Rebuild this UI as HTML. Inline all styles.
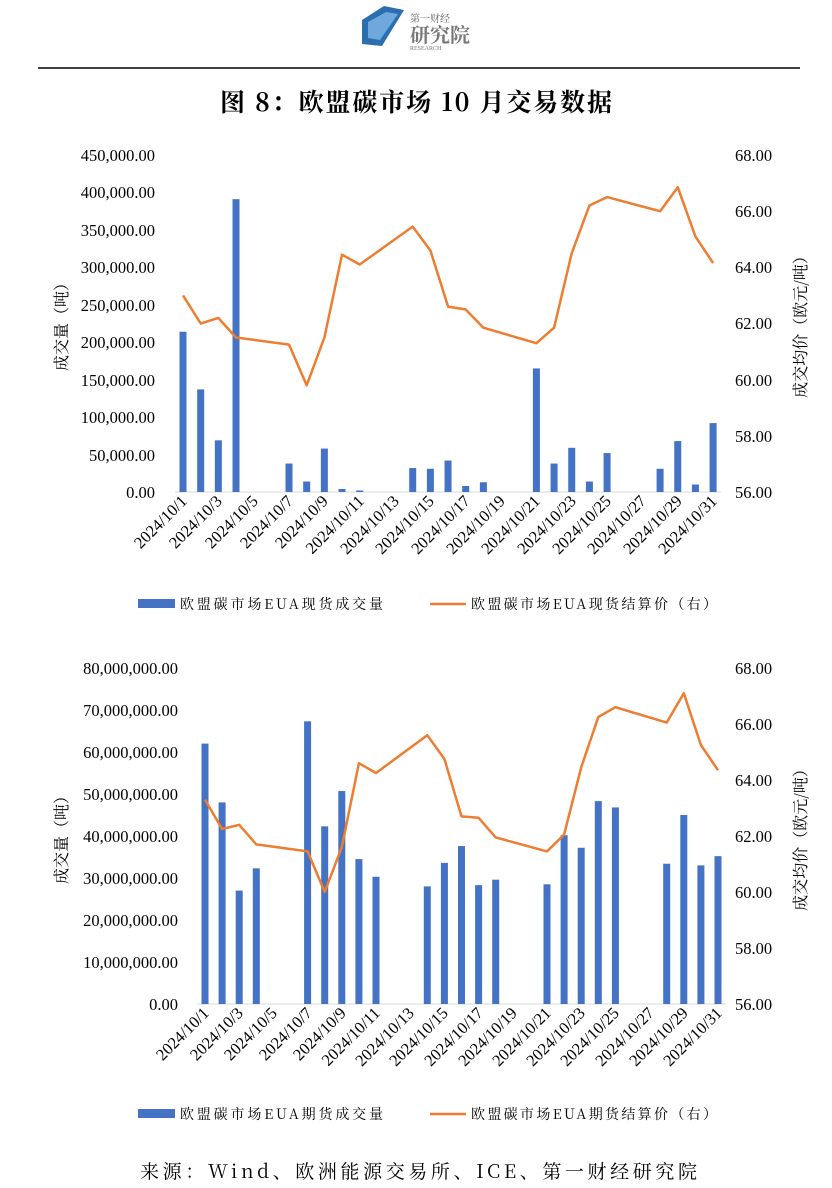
<!DOCTYPE html>
<html><head><meta charset="utf-8">
<style>
body{margin:0;background:#fff;}
svg{display:block;}
text{font-family:"Liberation Serif","Noto Serif CJK SC",serif;fill:#000;}
.cj{font-family:"Noto Serif CJK SC","Liberation Serif",serif;}
</style></head>
<body>
<svg id="s" width="832" height="1188" viewBox="0 0 832 1188" xmlns="http://www.w3.org/2000/svg">
<g>
<polygon points="362,20 384,6 404,10 382,46 362,44" fill="#2b6fb0"/>
<polygon points="368,22 386,12 398,14 380,40 368,38" fill="#6fa8dc"/>
<text x="410" y="22" font-size="10" style="fill:#666">第一财经</text>
<text x="410" y="42" font-size="20" style="fill:#777" font-weight="bold">研究院</text>
<text x="410" y="50" font-size="6" style="fill:#777">RESEARCH</text>
</g>
<line x1="38" y1="68" x2="800" y2="68" stroke="#000" stroke-width="1.5"/>
<text class="cj" x="416" y="111" font-size="25" font-weight="bold" text-anchor="middle" textLength="392">图 8：欧盟碳市场 10 月交易数据</text>

<g font-size="16.5" text-anchor="end">
<text x="155" y="161">450,000.00</text>
<text x="155" y="198">400,000.00</text>
<text x="155" y="236">350,000.00</text>
<text x="155" y="273">300,000.00</text>
<text x="155" y="311">250,000.00</text>
<text x="155" y="348">200,000.00</text>
<text x="155" y="386">150,000.00</text>
<text x="155" y="423">100,000.00</text>
<text x="155" y="461">50,000.00</text>
<text x="155" y="498">0.00</text>
</g>
<g font-size="16.5">
<text x="735" y="161">68.00</text>
<text x="735" y="217">66.00</text>
<text x="735" y="273">64.00</text>
<text x="735" y="329">62.00</text>
<text x="735" y="386">60.00</text>
<text x="735" y="442">58.00</text>
<text x="735" y="498">56.00</text>
</g>
<text class="cj" font-size="16" transform="translate(67,323) rotate(-90)" text-anchor="middle">成交量（吨）</text>
<text class="cj" font-size="16" transform="translate(806,323) rotate(-90)" text-anchor="middle">成交均价（欧元/吨）</text>
<g font-size="16.5" text-anchor="end">
<text transform="translate(188,502) rotate(-45)">2024/10/1</text>
<text transform="translate(223,502) rotate(-45)">2024/10/3</text>
<text transform="translate(259,502) rotate(-45)">2024/10/5</text>
<text transform="translate(294,502) rotate(-45)">2024/10/7</text>
<text transform="translate(329,502) rotate(-45)">2024/10/9</text>
<text transform="translate(365,502) rotate(-45)">2024/10/11</text>
<text transform="translate(400,502) rotate(-45)">2024/10/13</text>
<text transform="translate(435,502) rotate(-45)">2024/10/15</text>
<text transform="translate(471,502) rotate(-45)">2024/10/17</text>
<text transform="translate(506,502) rotate(-45)">2024/10/19</text>
<text transform="translate(541,502) rotate(-45)">2024/10/21</text>
<text transform="translate(577,502) rotate(-45)">2024/10/23</text>
<text transform="translate(612,502) rotate(-45)">2024/10/25</text>
<text transform="translate(647,502) rotate(-45)">2024/10/27</text>
<text transform="translate(683,502) rotate(-45)">2024/10/29</text>
<text transform="translate(718,502) rotate(-45)">2024/10/31</text>
</g>
<rect x="138" y="599" width="37" height="9" fill="#4472c4"/>
<text class="cj" x="180" y="609" font-size="14" textLength="203">欧盟碳市场EUA现货成交量</text>
<line x1="430" y1="604" x2="466" y2="604" stroke="#ed7d31" stroke-width="2.5"/>
<text class="cj" x="471" y="609" font-size="14" textLength="246">欧盟碳市场EUA现货结算价（右）</text>

<g font-size="16.5" text-anchor="end">
<text x="178" y="674">80,000,000.00</text>
<text x="178" y="716">70,000,000.00</text>
<text x="178" y="758">60,000,000.00</text>
<text x="178" y="800">50,000,000.00</text>
<text x="178" y="842">40,000,000.00</text>
<text x="178" y="884">30,000,000.00</text>
<text x="178" y="926">20,000,000.00</text>
<text x="178" y="968">10,000,000.00</text>
<text x="178" y="1010">0.00</text>
</g>
<g font-size="16.5">
<text x="735" y="674">68.00</text>
<text x="735" y="730">66.00</text>
<text x="735" y="786">64.00</text>
<text x="735" y="842">62.00</text>
<text x="735" y="898">60.00</text>
<text x="735" y="954">58.00</text>
<text x="735" y="1010">56.00</text>
</g>
<text class="cj" font-size="16" transform="translate(67,836) rotate(-90)" text-anchor="middle">成交量（吨）</text>
<text class="cj" font-size="16" transform="translate(806,836) rotate(-90)" text-anchor="middle">成交均价（欧元/吨）</text>
<g font-size="16.5" text-anchor="end">
<text transform="translate(210,1014) rotate(-45)">2024/10/1</text>
<text transform="translate(244,1014) rotate(-45)">2024/10/3</text>
<text transform="translate(278,1014) rotate(-45)">2024/10/5</text>
<text transform="translate(313,1014) rotate(-45)">2024/10/7</text>
<text transform="translate(347,1014) rotate(-45)">2024/10/9</text>
<text transform="translate(381,1014) rotate(-45)">2024/10/11</text>
<text transform="translate(415,1014) rotate(-45)">2024/10/13</text>
<text transform="translate(449,1014) rotate(-45)">2024/10/15</text>
<text transform="translate(484,1014) rotate(-45)">2024/10/17</text>
<text transform="translate(518,1014) rotate(-45)">2024/10/19</text>
<text transform="translate(552,1014) rotate(-45)">2024/10/21</text>
<text transform="translate(586,1014) rotate(-45)">2024/10/23</text>
<text transform="translate(620,1014) rotate(-45)">2024/10/25</text>
<text transform="translate(655,1014) rotate(-45)">2024/10/27</text>
<text transform="translate(689,1014) rotate(-45)">2024/10/29</text>
<text transform="translate(723,1014) rotate(-45)">2024/10/31</text>
</g>
<rect x="138" y="1109" width="37" height="9" fill="#4472c4"/>
<text class="cj" x="180" y="1119" font-size="14" textLength="203">欧盟碳市场EUA期货成交量</text>
<line x1="430" y1="1114" x2="466" y2="1114" stroke="#ed7d31" stroke-width="2.5"/>
<text class="cj" x="471" y="1119" font-size="14" textLength="246">欧盟碳市场EUA期货结算价（右）</text>

<text class="cj" x="140" y="1178" font-size="19" textLength="557">来源：Wind、欧洲能源交易所、ICE、第一财经研究院</text>
<g id="g"></g>
</svg>
<script>
var NS="http://www.w3.org/2000/svg",g=document.getElementById("g");
function el(t,a){var e=document.createElementNS(NS,t);for(var k in a)e.setAttribute(k,a[k]);g.appendChild(e);}
function chart(x0,step,yTop,yBot,maxV,bars,prices){
  el("line",{x1:x0-8,x2:x0+step*30+8,y1:yBot,y2:yBot,stroke:"#d9d9d9","stroke-width":1});
  for(var d in bars){var v=bars[d];if(!v)continue;var h=v/maxV*(yBot-yTop);
    el("rect",{x:x0+(d-1)*step-3.5,y:yBot-h,width:7,height:h,fill:"#4472c4"});}
  var pts=[];for(var d in prices){pts.push((x0+(d-1)*step).toFixed(1)+","+(yBot-(prices[d]-56)/12*(yBot-yTop)).toFixed(1));}
  el("polyline",{points:pts.join(" "),fill:"none",stroke:"#ed7d31","stroke-width":2.5,"stroke-linejoin":"round"});
}
chart(183,17.67,155,492,450,
{1:214,2:137,3:69,4:391,7:38,8:14,9:58,10:4,11:2,14:32,15:31,16:42,17:8,18:13,21:165,22:38,23:59,24:14,25:52,28:31,29:68,30:10,31:92},
{1:63.0,2:62.0,3:62.2,4:61.5,7:61.25,8:59.8,9:61.5,10:64.45,11:64.1,14:65.45,15:64.6,16:62.6,17:62.5,18:61.85,21:61.3,22:61.85,23:64.5,24:66.2,25:66.5,28:66.0,29:66.85,30:65.1,31:64.15});
chart(205,17.1,668,1004,80,
{1:62,2:48,3:27,4:32.3,7:67.3,8:42.3,9:50.7,10:34.5,11:30.3,14:28,15:33.6,16:37.6,17:28.3,18:29.6,21:28.5,22:40.2,23:37.2,24:48.3,25:46.8,28:33.4,29:45,30:33,31:35.2},
{1:63.3,2:62.25,3:62.4,4:61.7,7:61.45,8:60,9:61.6,10:64.6,11:64.25,14:65.6,15:64.75,16:62.7,17:62.65,18:61.95,21:61.45,22:62.05,23:64.45,24:66.25,25:66.6,28:66.05,29:67.1,30:65.25,31:64.35});
</script>
</body></html>
